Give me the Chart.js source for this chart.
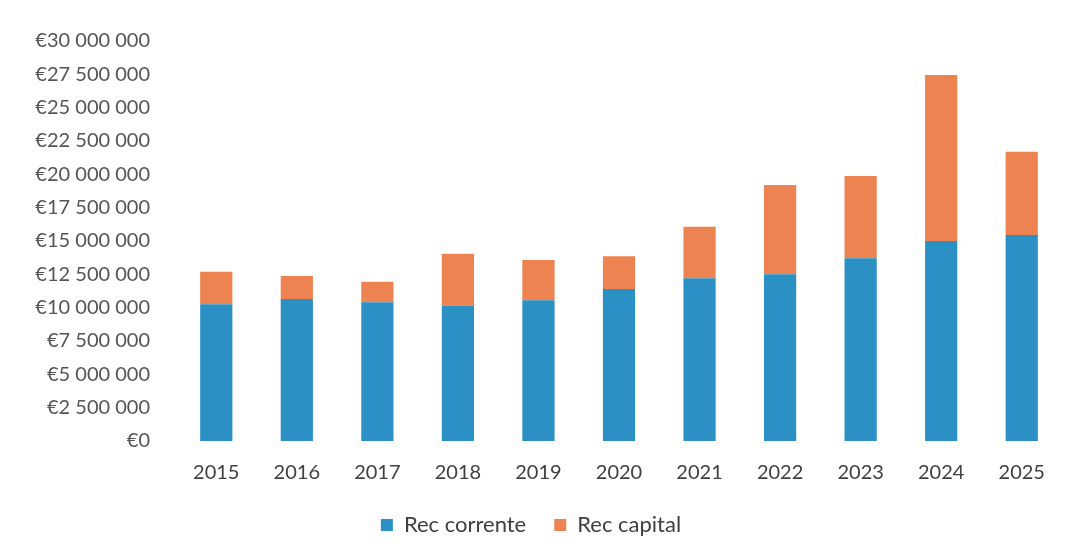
<!DOCTYPE html>
<html>
<head>
<meta charset="utf-8">
<script src="https://cdn.jsdelivr.net/npm/chart.js@4"></script>
<style>
  html, body { margin: 0; padding: 0; background: #fff; }
  #wrap { width: 1080px; height: 556px; position: relative; }
</style>
</head>
<body>
<div id="wrap"><canvas id="chart"></canvas></div>
<script>
const years = ["2015", "2016", "2017", "2018", "2019", "2020", "2021", "2022", "2023", "2024", "2025"];
const recCorrente = [10250000, 10650000, 10400000, 10150000, 10550000, 11400000, 12200000, 12500000, 13700000, 15000000, 15450000];
const recCapital = [2450000, 1720000, 1550000, 3900000, 3030000, 2450000, 3870000, 6700000, 6180000, 12450000, 6250000];

const BLUE = "#2b90c3";
const ORANGE = "#ee8352";

function euro(v) {
  return "€" + String(v).replace(/\B(?=(\d{3})+(?!\d))/g, " ");
}

new Chart(document.getElementById("chart"), {
  type: "bar",
  data: {
    labels: years,
    datasets: [
      { label: "Rec corrente", data: recCorrente, backgroundColor: BLUE },
      { label: "Rec capital", data: recCapital, backgroundColor: ORANGE }
    ]
  },
  options: {
    responsive: true,
    maintainAspectRatio: false,
    animation: false,
    datasets: { bar: { categoryPercentage: 1, barPercentage: 0.4 } },
    layout: { padding: { top: 41, right: 18, bottom: 10, left: 0 } },
    plugins: {
      tooltip: { enabled: false },
      legend: {
        position: "bottom",
        labels: {
          boxWidth: 12,
          boxHeight: 12,
          padding: 28,
          color: "#404040",
          font: { family: "Lato", size: 22 }
        }
      }
    },
    scales: {
      x: {
        stacked: true,
        grid: { display: false },
        border: { display: false },
        // let the year labels sit closer to the legend
        afterFit: s => { s.height -= 11; },
        ticks: { color: "#404040", padding: 12, font: { family: "Lato", size: 20 } }
      },
      y: {
        stacked: true,
        min: 0,
        max: 30000000,
        grid: { display: false },
        border: { display: false },
        afterFit: s => { s.width = 176; },
        ticks: {
          stepSize: 2500000,
          padding: 18,
          color: "#555555",
          font: { family: "Lato", size: 20 },
          callback: v => euro(v)
        }
      }
    }
  }
});
</script>
</body>
</html>
